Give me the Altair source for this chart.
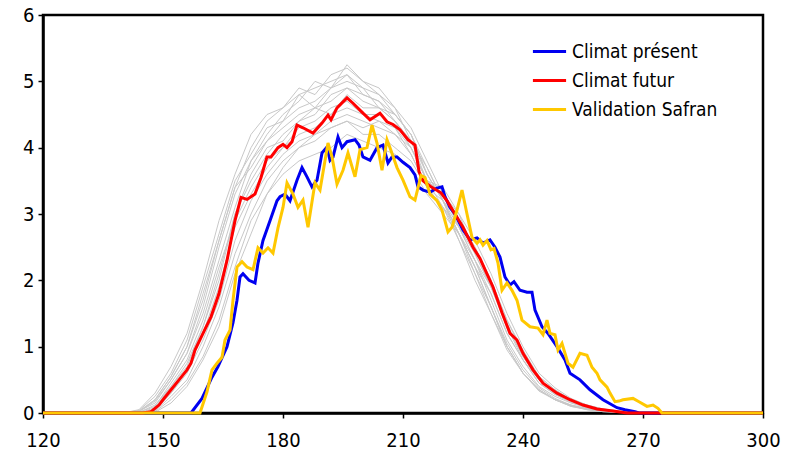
import altair as alt
import pandas as pd

# ---- Data ----
series_names = ["Climat présent", "Climat futur", "Validation Safran"]
series_colors = ["#0000F0", "#FF0000", "#FFC800"]

present_days = [120, 157, 159.75, 162.25, 163.75, 166, 167.5, 168.5, 169.25, 170, 171.5, 173, 173.75, 175,
                176.75, 178.5, 179.25, 180.5, 181.75, 183.5, 184.75, 186, 187.25, 188.5, 189.75, 191, 191.75,
                192.5, 193.75, 194.75, 196, 198, 199, 200, 201.75, 203.5, 205, 206.25, 207.25, 208.5, 210,
                211.75, 213, 213.75, 215, 216.75, 218.5, 219.75, 220.5, 221.75, 223, 225, 226.75, 228.5, 230,
                231.75, 233, 234.25, 235.5, 236.75, 237.75, 239.25, 241, 242.25, 243, 244.75, 246.25, 248.5,
                250.5, 251.75, 254.25, 256.75, 260, 263.5, 265.5, 268, 269, 300]
present_vals = [0, 0, 0.22, 0.54, 0.7, 1.0, 1.36, 1.7, 2.05, 2.1, 2.0, 1.96, 2.26, 2.6,
                2.9, 3.2, 3.26, 3.3, 3.2, 3.51, 3.7, 3.56, 3.41, 3.51, 3.92, 4.01, 3.81,
                3.86, 4.16, 4.0, 4.09, 4.12, 4.04, 3.86, 3.81, 4.0, 4.04, 3.77, 3.86, 3.86, 3.78,
                3.7, 3.59, 3.41, 3.36, 3.33, 3.39, 3.41, 3.26, 3.1, 3.0, 2.76, 2.61, 2.64, 2.56,
                2.61, 2.5, 2.35, 2.05, 1.93, 1.98, 1.85, 1.82, 1.82, 1.55, 1.3, 1.2, 1.0,
                0.8, 0.6, 0.5, 0.35, 0.2, 0.08, 0.05, 0.02, 0, 0]

futur_days = [120, 145, 147, 149, 150, 152, 154, 156, 157, 158, 160, 162, 164, 166, 167, 168, 169.5, 171,
              173, 174.5, 176, 177, 178.75, 180, 181, 182.25, 183.5, 185, 187.5, 189.75, 191.25, 192,
              193.5, 196, 197.5, 200, 201.75, 204.25, 206, 207.5, 209.25, 211.25, 213, 214, 215, 217,
              219.5, 221, 222, 223.5, 225, 226.5, 227.5, 229.25, 230.5, 232.5, 234.75, 236.75, 238.5,
              240, 242.5, 245, 248.5, 251.75, 255, 258.5, 262.5, 266, 300]
futur_vals = [0, 0, 0.02, 0.12, 0.2, 0.35, 0.5, 0.65, 0.75, 0.95, 1.2, 1.45, 1.8, 2.3, 2.6, 2.9, 3.25, 3.22,
              3.3, 3.55, 3.86, 3.86, 4.0, 4.05, 4.0, 4.09, 4.34, 4.3, 4.22, 4.37, 4.49, 4.42,
              4.6, 4.75, 4.67, 4.52, 4.42, 4.52, 4.39, 4.35, 4.27, 4.12, 4.04, 3.64, 3.5, 3.41,
              3.32, 3.2, 3.1, 2.95, 2.8, 2.62, 2.5, 2.33, 2.16, 1.9, 1.51, 1.2, 1.1,
              0.9, 0.65, 0.45, 0.3, 0.2, 0.12, 0.06, 0.03, 0, 0]

safran_days = [120, 159.25, 161, 162.25, 163.5, 164.75, 165.5, 166.75, 167.5, 168.5, 169.75, 171, 172.5,
               173.75, 175, 176.25, 177.5, 178.75, 180, 181, 182.5, 183.75, 185, 186.25, 188, 189.25,
               191.25, 192.25, 193.5, 195, 196.25, 198, 199.25, 201, 202.25, 203.5, 204.75, 206, 206.75,
               208.5, 210, 211.75, 213, 214.5, 215.5, 216.75, 218.5, 219.75, 221.25, 222.25, 223.5,
               224.75, 226, 227.25, 228.5, 229.25, 230, 231, 232, 232.75, 233.75, 234.75, 236, 237.25,
               238.5, 239.75, 241.75, 243.75, 245, 246, 246.75, 248, 248.75, 249.75, 251.25, 252.5,
               254.25, 256, 257.25, 258.5, 259.25, 261, 261.75, 263, 264, 265, 267.5, 269, 271, 272.5,
               273.75, 274.75, 300]
safran_vals = [0, 0, 0.32, 0.65, 0.75, 0.84, 1.1, 1.25, 1.7, 2.2, 2.28, 2.2, 2.16,
               2.49, 2.41, 2.49, 2.41, 2.79, 3.1, 3.47, 3.3, 3.1, 3.21, 2.8, 3.47, 3.36,
               4.07, 3.86, 3.45, 3.66, 3.92, 3.56, 3.97, 4.0, 4.34, 4.07, 3.66, 4.12, 4.0,
               3.7, 3.51, 3.26, 3.21, 3.58, 3.55, 3.3, 3.2, 3.06, 2.73, 2.8, 3.06,
               3.36, 3.0, 2.65, 2.56, 2.61, 2.53, 2.6, 2.46, 2.48, 2.26, 1.85, 1.96, 1.85,
               1.7, 1.4, 1.3, 1.28, 1.18, 1.4, 1.2, 1.18, 0.95, 1.05, 0.75, 0.69,
               0.9, 0.87, 0.69, 0.6, 0.5, 0.39, 0.3, 0.17, 0.18, 0.2, 0.22, 0.17, 0.1, 0.12,
               0.07, 0, 0]

# Ensemble members (grey spaghetti)
grey_days = [140, 144, 148, 152, 156, 160, 164, 168, 172, 176, 180, 184, 188, 192, 196, 200, 204,
             208, 212, 216, 220, 224, 228, 232, 236, 240, 244, 248, 252, 256, 260, 264, 268, 272]
grey_members = [
    [0, 0.05, 0.3, 0.7, 1.2, 2.0, 2.9, 3.6, 4.2, 4.5, 4.6, 4.9, 4.8, 5.1, 5.2, 5.0, 4.9, 4.6, 4.3, 3.8, 3.3, 2.8, 2.3, 1.7, 1.1, 0.7, 0.4, 0.25, 0.15, 0.08, 0.04, 0.02, 0, 0],
    [0, 0.02, 0.2, 0.55, 1.0, 1.7, 2.6, 3.4, 3.7, 4.1, 4.3, 4.5, 4.6, 4.7, 4.9, 4.8, 4.7, 4.4, 4.0, 3.5, 3.1, 2.6, 2.1, 1.5, 1.0, 0.6, 0.35, 0.2, 0.1, 0.06, 0.03, 0.01, 0, 0],
    [0, 0, 0.02, 0.2, 0.45, 0.85, 1.4, 2.2, 2.9, 3.3, 3.6, 3.8, 3.9, 4.0, 4.2, 4.1, 4.0, 3.9, 3.7, 3.3, 3.0, 2.7, 2.2, 1.8, 1.2, 0.8, 0.5, 0.3, 0.18, 0.1, 0.05, 0.02, 0, 0],
    [0, 0, 0.08, 0.4, 0.75, 1.3, 2.0, 3.0, 3.5, 3.9, 4.2, 4.4, 4.5, 4.8, 4.9, 4.7, 4.6, 4.5, 4.2, 3.6, 3.2, 2.8, 2.3, 1.8, 1.2, 0.8, 0.45, 0.28, 0.17, 0.09, 0.04, 0.02, 0, 0],
    [0, 0.03, 0.15, 0.5, 0.9, 1.5, 2.3, 3.1, 3.8, 4.2, 4.5, 4.7, 5.0, 4.9, 5.25, 5.0, 4.8, 4.6, 4.1, 3.7, 3.2, 2.7, 2.2, 1.6, 1.05, 0.65, 0.38, 0.22, 0.12, 0.07, 0.03, 0.01, 0, 0],
    [0, 0, 0.01, 0.15, 0.4, 0.8, 1.3, 2.1, 2.7, 3.3, 3.7, 4.0, 4.1, 4.3, 4.4, 4.3, 4.4, 4.2, 3.9, 3.4, 3.1, 2.8, 2.4, 1.9, 1.3, 0.85, 0.5, 0.32, 0.2, 0.12, 0.06, 0.03, 0.01, 0],
    [0, 0.01, 0.1, 0.45, 0.8, 1.4, 2.2, 2.9, 3.4, 3.8, 4.0, 4.3, 4.4, 4.6, 4.7, 4.5, 4.4, 4.3, 4.0, 3.5, 3.3, 2.9, 2.5, 2.0, 1.4, 0.95, 0.55, 0.35, 0.2, 0.1, 0.05, 0.02, 0, 0],
    [0, 0.04, 0.25, 0.6, 1.1, 1.9, 2.7, 3.5, 3.9, 4.3, 4.4, 4.6, 4.7, 4.9, 5.0, 4.9, 4.6, 4.4, 4.1, 3.6, 3.2, 2.6, 2.0, 1.5, 0.95, 0.6, 0.35, 0.2, 0.12, 0.06, 0.03, 0.01, 0, 0],
    [0, 0, 0.05, 0.3, 0.6, 1.1, 1.7, 2.6, 3.2, 3.6, 3.9, 4.1, 4.2, 4.4, 4.5, 4.4, 4.3, 4.2, 4.0, 3.5, 3.3, 3.0, 2.6, 2.1, 1.5, 1.0, 0.6, 0.38, 0.22, 0.12, 0.06, 0.03, 0.01, 0],
    [0, 0.02, 0.18, 0.5, 0.9, 1.6, 2.5, 3.3, 3.8, 4.1, 4.4, 4.8, 4.6, 4.9, 5.1, 4.8, 4.7, 4.5, 4.2, 3.7, 3.2, 2.7, 2.2, 1.6, 1.0, 0.6, 0.35, 0.2, 0.11, 0.05, 0.02, 0.01, 0, 0],
    [0, 0, 0.04, 0.3, 0.65, 1.2, 1.9, 2.8, 3.3, 3.7, 4.0, 4.2, 4.3, 4.5, 4.6, 4.5, 4.5, 4.3, 3.9, 3.4, 3.1, 2.7, 2.3, 1.9, 1.35, 0.85, 0.5, 0.3, 0.18, 0.1, 0.05, 0.02, 0, 0],
    [0, 0.01, 0.12, 0.4, 0.7, 1.3, 2.1, 3.0, 3.6, 4.0, 4.1, 4.4, 4.6, 4.5, 4.8, 4.6, 4.6, 4.4, 4.1, 3.5, 3.4, 3.0, 2.4, 1.9, 1.3, 0.8, 0.45, 0.28, 0.16, 0.08, 0.04, 0.02, 0, 0],
    [0, 0, 0.03, 0.25, 0.5, 1.0, 1.6, 2.4, 3.0, 3.5, 3.8, 4.0, 4.2, 4.3, 4.4, 4.2, 4.2, 4.0, 3.8, 3.4, 3.2, 2.9, 2.5, 2.0, 1.4, 0.9, 0.55, 0.35, 0.2, 0.11, 0.05, 0.02, 0.01, 0],
    [0, 0.03, 0.2, 0.55, 1.0, 1.8, 2.6, 3.4, 4.0, 4.4, 4.6, 4.8, 4.9, 5.0, 5.1, 4.9, 4.8, 4.5, 4.2, 3.6, 3.2, 2.7, 2.1, 1.6, 1.0, 0.6, 0.33, 0.2, 0.1, 0.05, 0.02, 0.01, 0, 0],
]

x_ticks = [120, 150, 180, 210, 240, 270, 300]
y_ticks = [0, 1, 2, 3, 4, 5, 6]

# ---- Tables ----
grey_rows = []
for m, vals in enumerate(grey_members):
    for d, v in zip(grey_days, vals):
        grey_rows.append({"day": d, "value": v, "member": f"m{m}"})
grey_df = pd.DataFrame(grey_rows)

def series_df(name, days, vals):
    return pd.DataFrame({"day": days, "value": vals, "series": name})

dfs = [series_df(series_names[0], present_days, present_vals),
       series_df(series_names[1], futur_days, futur_vals),
       series_df(series_names[2], safran_days, safran_vals)]

FONT = "DejaVu Sans Condensed, DejaVu Sans"

x_enc = alt.X("day:Q", scale=alt.Scale(domain=[120, 300], nice=False, zero=False),
              axis=alt.Axis(values=x_ticks, title=None, grid=False, labelFontSize=20,
                            labelFont=FONT, labelColor="black", labelPadding=12,
                            tickColor="black", tickSize=5, tickWidth=1.5,
                            domainColor="black", domainWidth=2.5, labelFlush=False))
y_enc = alt.Y("value:Q", scale=alt.Scale(domain=[0, 6], nice=False),
              axis=alt.Axis(values=y_ticks, title=None, grid=False, labelFontSize=20,
                            labelFont=FONT, labelColor="black", labelPadding=4,
                            tickColor="black", tickSize=5, tickWidth=1.5,
                            domainColor="black", domainWidth=2.5, labelFlush=False))

grey = alt.Chart(grey_df).mark_line(color="#C8C8C8", strokeWidth=1).encode(
    x=x_enc, y=y_enc, detail="member:N")

color_enc = alt.Color("series:N",
                      scale=alt.Scale(domain=series_names, range=series_colors),
                      legend=alt.Legend(title=None, orient="none", legendX=488, legendY=18,
                                        symbolType="stroke", symbolSize=1100,
                                        symbolStrokeWidth=3, labelFontSize=19,
                                        labelFont=FONT, labelColor="black",
                                        labelOffset=4, rowPadding=0, padding=0))

layers = [grey]
for df in dfs:
    layers.append(alt.Chart(df).mark_line(strokeWidth=3).encode(
        x=x_enc, y=y_enc, color=color_enc))

chart = alt.layer(*layers).properties(
    width=720, height=398,
    padding={"left": 43, "top": 15, "right": 38, "bottom": 43},
    autosize=alt.AutoSizeParams(type="none"),
    background="white",
).configure_view(stroke="black", strokeWidth=2.5)

chart.save("out.html", embed_options={"renderer": "svg", "actions": False})
